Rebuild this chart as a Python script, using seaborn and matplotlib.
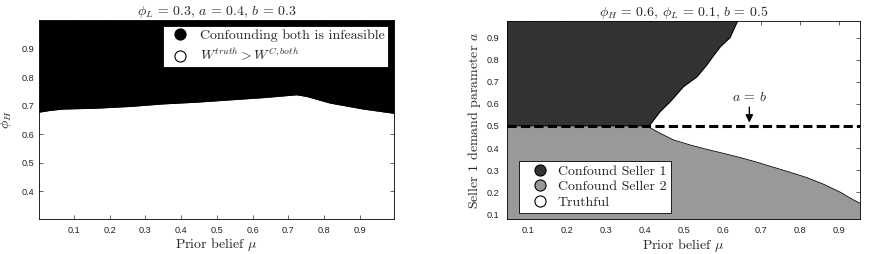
import numpy as np
import matplotlib
matplotlib.use("Agg")
import matplotlib.pyplot as plt
import seaborn as sns
from matplotlib.lines import Line2D

# ---------------- data ----------------
# Left panel: boundary phi_H(mu) between infeasible (above) and truthful (below)
left_mu = [0.003, 0.033, 0.07, 0.163, 0.257, 0.35, 0.443, 0.536, 0.63, 0.686, 0.723, 0.751, 0.816, 0.909, 0.995]
left_phi = [0.677, 0.683, 0.688, 0.691, 0.697, 0.706, 0.712, 0.72, 0.728, 0.734, 0.738, 0.732, 0.709, 0.688, 0.673]

# Right panel: upper boundary (Confound Seller 1 | Truthful), mu as function of a
upper_a = [0.5, 0.505, 0.54, 0.565, 0.61, 0.678, 0.723, 0.776, 0.829, 0.859, 0.9, 0.977]
upper_mu = [0.405, 0.413, 0.428, 0.439, 0.465, 0.499, 0.534, 0.559, 0.581, 0.594, 0.619, 0.639]

# Right panel: lower boundary (Confound Seller 2 | Truthful), a as function of mu
lower_mu = [0.044, 0.405, 0.439, 0.473, 0.516, 0.559, 0.602, 0.645, 0.688, 0.731, 0.774, 0.817, 0.86, 0.903, 0.937, 0.954]
lower_a = [0.5, 0.5, 0.467, 0.437, 0.414, 0.394, 0.376, 0.357, 0.336, 0.313, 0.29, 0.266, 0.236, 0.2, 0.165, 0.15]

b_value = 0.5
left_title = r"$\phi_L\,=\,0.3,\,a\,=\,0.4,\,b\,=\,0.3$"
right_title = r"$\phi_H\,=\,0.6,\,\phi_L\,=\,0.1,\,b\,=\,0.5$"
left_legend = ["Confounding both is infeasible", r"$W^{truth}>W^{C,both}$"]
right_legend = ["Confound Seller 1", "Confound Seller 2", "Truthful"]
left_yticks = [0.4, 0.5, 0.6, 0.7, 0.8, 0.9]
right_yticks = [0.1, 0.2, 0.3, 0.4, 0.5, 0.6, 0.7, 0.8, 0.9]
xticks = [0.1, 0.2, 0.3, 0.4, 0.5, 0.6, 0.7, 0.8, 0.9]

# ---------------- style ----------------
sns.set_theme(style="ticks")
plt.rcParams.update({
    "font.family": ["serif"],
    "font.serif": ["cmr10", "DejaVu Serif"],
    "mathtext.fontset": "cm",
    "axes.unicode_minus": False,
    "axes.formatter.use_mathtext": True,
    "axes.linewidth": 0.6,
    "axes.edgecolor": "black",
    "xtick.direction": "in",
    "ytick.direction": "in",
    "xtick.major.size": 3,
    "ytick.major.size": 3,
    "xtick.major.width": 0.5,
    "ytick.major.width": 0.5,
    "xtick.top": True,
    "ytick.right": True,
})

DARK = "#333333"
LIGHT = "#999999"

fig = plt.figure(figsize=(8.73, 2.54), dpi=100)
axL = fig.add_axes([0.0447, 0.1378, 0.4066, 0.7835])
axR = fig.add_axes([0.5804, 0.1366, 0.4047, 0.7820])

tick_font = dict(family="Liberation Sans", size=6.6, color="#222222")

# ---------------- left ----------------
axL.set_facecolor("white")
axL.fill_between(left_mu, left_phi, 1.0, color="black", lw=0, zorder=1)
sns.lineplot(x=left_mu, y=left_phi, ax=axL, color="black", lw=0.6, zorder=2)
axL.set_xlim(0.003, 0.995)
axL.set_ylim(0.303, 1.0)
axL.set_xticks(xticks)
axL.set_yticks(left_yticks)
axL.set_xticklabels([f"{t:g}" for t in xticks], **tick_font)
axL.set_yticklabels([f"{t:g}" for t in left_yticks], **tick_font)
axL.tick_params(axis="x", pad=5)
axL.tick_params(axis="y", pad=3.6)
axL.set_title(left_title, fontsize=10, pad=3)
axL.set_xlabel(r"Prior belief $\mu$", fontsize=10, labelpad=1)
axL.set_ylabel(r"$\phi_H$", fontsize=10, labelpad=5)
hL = [Line2D([], [], ls="none", marker="o", ms=8, mfc="black", mec="black", mew=0.8),
      Line2D([], [], ls="none", marker="o", ms=8, mfc="white", mec="black", mew=0.8)]
legL = axL.legend(hL, left_legend, loc="upper right", fontsize=10, frameon=True,
                  fancybox=False, edgecolor="black", framealpha=1, borderaxespad=0.43,
                  labelspacing=0.3, handletextpad=0.43, borderpad=0.25, handlelength=2.0)
legL.get_frame().set_linewidth(0.6)
for s in axL.spines.values():
    s.set_zorder(5)

# ---------------- right ----------------
axR.set_facecolor("white")
xl = (0.044, 0.954)
yl = (0.077, 0.977)
axR.fill_betweenx(upper_a, xl[0], upper_mu, color=DARK, lw=0, zorder=1)
axR.fill_between(lower_mu, yl[0], lower_a, color=LIGHT, lw=0, zorder=1)
sns.lineplot(x=upper_mu, y=upper_a, ax=axR, color="black", lw=0.6, sort=False, zorder=2)
sns.lineplot(x=lower_mu, y=lower_a, ax=axR, color="black", lw=0.6, zorder=2)
axR.axhline(b_value, color="black", lw=2.2, dashes=(3.0, 1.4), zorder=3)
axR.annotate(r"$a\,=\,b$", xy=(0.669, 0.515), xytext=(0.669, 0.6),
             ha="center", va="bottom", fontsize=10,
             arrowprops=dict(arrowstyle="-|>,head_width=0.22,head_length=0.45",
                             color="black", lw=1.0, shrinkA=0, shrinkB=0), zorder=4)
axR.set_xlim(*xl)
axR.set_ylim(*yl)
axR.set_xticks(xticks)
axR.set_yticks(right_yticks)
axR.set_xticklabels([f"{t:g}" for t in xticks], **tick_font)
axR.set_yticklabels([f"{t:g}" for t in right_yticks], **tick_font)
axR.tick_params(axis="x", pad=5)
axR.tick_params(axis="y", pad=5.2)
axR.set_title(right_title, fontsize=10, pad=3)
axR.set_xlabel(r"Prior belief $\mu$", fontsize=10, labelpad=1)
axR.set_ylabel(r"Seller 1 demand parameter $a$", fontsize=10, labelpad=3)
hR = [Line2D([], [], ls="none", marker="o", ms=8, mfc=DARK, mec="black", mew=0.8),
      Line2D([], [], ls="none", marker="o", ms=8, mfc=LIGHT, mec="black", mew=0.8),
      Line2D([], [], ls="none", marker="o", ms=8, mfc="white", mec="black", mew=0.8)]
legR = axR.legend(hR, right_legend, loc="lower left", bbox_to_anchor=(0.035, 0.032),
                  fontsize=10, frameon=True, fancybox=False, edgecolor="black",
                  framealpha=1, borderaxespad=0.0, labelspacing=0.2,
                  handletextpad=0.1, borderpad=0.3, handlelength=2.4)
legR.get_frame().set_linewidth(0.6)
for s in axR.spines.values():
    s.set_zorder(5)

fig.savefig("out.png", dpi=100)
